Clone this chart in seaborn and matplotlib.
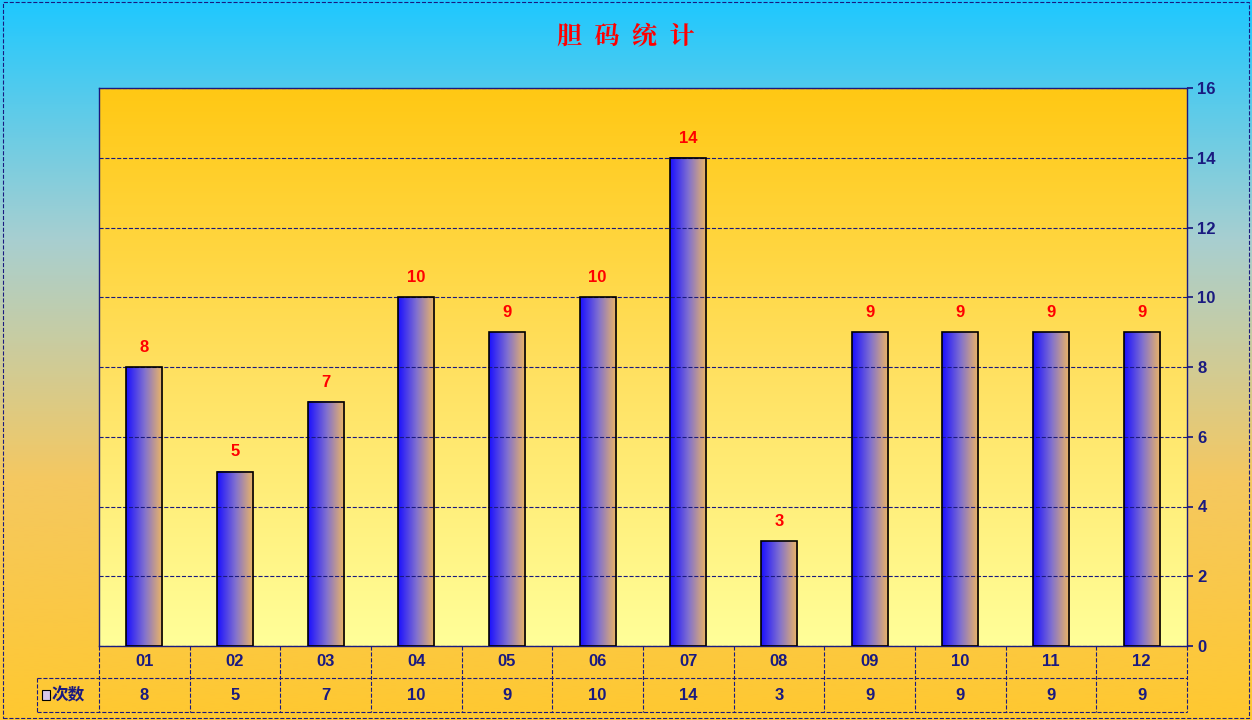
import matplotlib.pyplot as plt
import matplotlib.colors as mcolors
import numpy as np
import pandas as pd
import seaborn as sns

categories = ['01', '02', '03', '04', '05', '06', '07', '08', '09', '10', '11', '12']
counts = [8, 5, 7, 10, 9, 10, 14, 3, 9, 9, 9, 9]
series_name = '次数'
title = '胆码统计'

sns.set_theme(style='white')
plt.rcParams['font.family'] = ['Liberation Sans', 'Noto Sans CJK SC']
navy = '#1a1a80'

fig = plt.figure(figsize=[12.52, 7.2], dpi=100)

# figure background gradient
bg = fig.add_axes([0, 0, 1, 1], zorder=-10)
bg_cmap = mcolors.LinearSegmentedColormap.from_list('bg', ['#1ec8ff', '#a8cfd0', '#f5c860', '#ffc830'])
bg.imshow(np.linspace(0, 1, 256).reshape(-1, 1), aspect='auto', cmap=bg_cmap, extent=[0, 1, 0, 1])
bg.set_axis_off()
bg.add_patch(plt.Rectangle((0.002, 0.003), 0.996, 0.994, fill=False, ec=navy, ls='--', lw=0.8))

l, r = 99/1252, 1187/1252
b, t = 1-646/720, 1-88/720
ax = fig.add_axes([l, b, r-l, t-b])
df = pd.DataFrame({'cat': categories, 'n': counts})
sns.barplot(data=df, x='cat', y='n', ax=ax, width=0.4, color='white', edgecolor='black', linewidth=1.2, zorder=3)
ax.set_xlim(-0.5, len(categories)-0.5)
ax.set_ylim(0, 16)

# plot area gradient
pa_cmap = mcolors.LinearSegmentedColormap.from_list('pa', ['#ffff99', '#ffe060', '#ffc814'])
ax.imshow(np.linspace(0, 1, 256).reshape(-1, 1), aspect='auto', cmap=pa_cmap, origin='lower',
          extent=[-0.5, len(categories)-0.5, 0, 16], zorder=0)

bar_cmap = mcolors.LinearSegmentedColormap.from_list('bar', ['#1a10ff', '#8070d0', '#f0b860'])
for p, v in zip(ax.patches, counts):
    p.set_facecolor('none')
    x0 = p.get_x(); w = p.get_width()
    im = ax.imshow(np.linspace(0, 1, 128).reshape(1, -1), aspect='auto', cmap=bar_cmap,
                   extent=[x0, x0+w, 0, v], zorder=2)
    ax.text(x0+w/2, v+0.35, str(v), ha='center', va='bottom', color='red', fontsize=12, fontweight='bold', zorder=4)

ax.yaxis.tick_right()
ax.set_yticks(range(0, 17, 2))
ax.tick_params(axis='y', labelsize=12, labelcolor=navy, length=4, color=navy, right=True)
for lab in ax.get_yticklabels():
    lab.set_fontweight('bold')
ax.set_xticks([])
ax.set_xlabel(''); ax.set_ylabel('')
ax.grid(axis='y', ls='--', color=navy, lw=0.8, zorder=1)
ax.set_axisbelow(False)
for s in ax.spines.values():
    s.set_color(navy); s.set_linewidth(1)
ax.set_xlim(-0.5, len(categories)-0.5)
ax.set_ylim(0, 16)

# data table
row1_top, row1_bot, row2_bot = 1-646/720, 1-678/720, 1-712/720
lab_l = 37/1252
cw = (r-l)/len(categories)
kw = dict(color=navy, ls='--', lw=0.8)
bg.plot([lab_l, r], [row1_bot, row1_bot], **kw)
bg.plot([lab_l, r], [row2_bot, row2_bot], **kw)
bg.plot([lab_l, lab_l], [row1_bot, row2_bot], **kw)
for i in range(len(categories)+1):
    x = l + i*cw
    bg.plot([x, x], [row1_top, row2_bot], **kw)
for i, (c, v) in enumerate(zip(categories, counts)):
    xc = l + (i+0.5)*cw
    bg.text(xc, (row1_top+row1_bot)/2, c, ha='center', va='center', color=navy, fontsize=12, fontweight='bold')
    bg.text(xc, (row1_bot+row2_bot)/2, str(v), ha='center', va='center', color=navy, fontsize=12, fontweight='bold')
bg.add_patch(plt.Rectangle((42/1252, (row1_bot+row2_bot)/2-0.007), 8/1252, 0.014, fc='#d8c8e8', ec='black', lw=0.8))
bg.text(52/1252, (row1_bot+row2_bot)/2, series_name, ha='left', va='center', color=navy, fontsize=12,
        fontweight='bold', family=['Noto Sans CJK SC'])
bg.set_xlim(0, 1); bg.set_ylim(0, 1)

fig.text(0.5, 1-37/720, '  '.join(title), ha='center', va='center', color='red', fontsize=18, fontweight='bold',
         family=['Noto Serif CJK SC', 'Noto Sans CJK SC'])

fig.savefig('out.png', dpi=100)
